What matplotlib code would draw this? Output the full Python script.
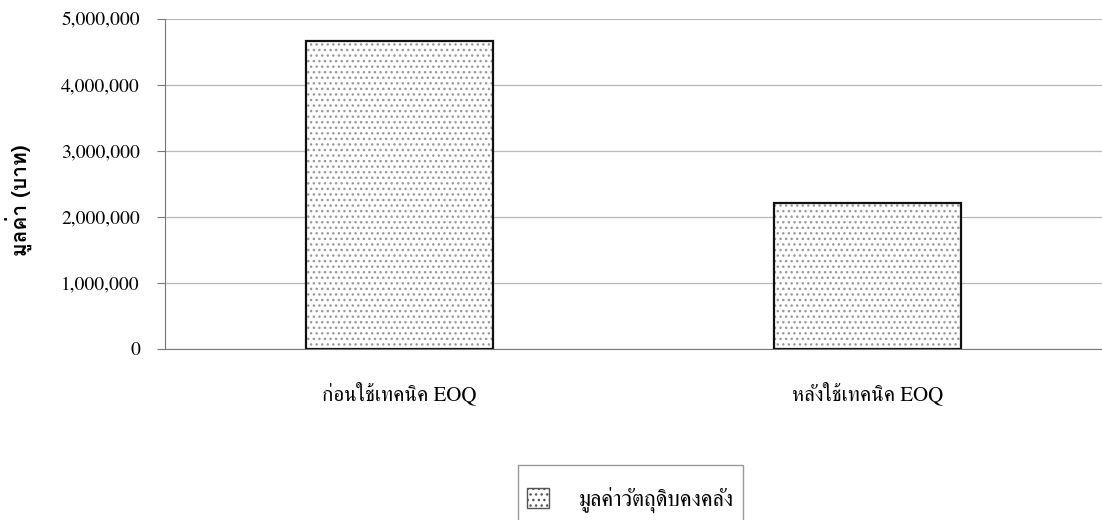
import matplotlib
matplotlib.use("Agg")
import matplotlib.pyplot as plt
from matplotlib.patches import Patch
from matplotlib.ticker import FuncFormatter

plt.rcParams['font.family'] = ['FreeSerif', 'DejaVu Serif']
plt.rcParams['hatch.linewidth'] = 1.0

# ข้อมูล
categories = ['ก่อนใช้เทคนิค EOQ', 'หลังใช้เทคนิค EOQ']
values = [4670000, 2213000]
series_name = 'มูลค่าวัตถุดิบคงคลัง'
y_label = 'มูลค่า (บาท)'
y_ticks = [0, 1000000, 2000000, 3000000, 4000000, 5000000]

fig = plt.figure(figsize=(11.02, 5.2), dpi=100)
ax = fig.add_axes([0.1497, 0.3298, 0.8503, 0.6332])

x = list(range(len(categories)))
# ลายจุด + กรอบดำ
ax.bar(x, values, width=0.40, color='white', edgecolor='#999999',
       hatch='...', linewidth=0, zorder=2)
ax.bar(x, values, width=0.40, color='none', edgecolor='#111111',
       linewidth=1.6, zorder=3)

ax.set_xlim(-0.5, 1.5)
ax.set_ylim(0, 5000000)
ax.set_yticks(y_ticks)
ax.yaxis.set_major_formatter(FuncFormatter(lambda v, p: f'{int(v):,}'))
ax.set_xticks(x)
ax.set_xticklabels(categories, fontsize=15)
ax.tick_params(axis='x', length=0, pad=24)
ax.tick_params(axis='y', labelsize=14, length=6, width=0.8, color='#777777', pad=12)

ax.grid(True, axis='y', color='#b8b8b8', linewidth=0.9, zorder=0)
ax.set_axisbelow(True)
for s in ['top', 'right']:
    ax.spines[s].set_visible(False)
ax.spines['left'].set_color('#777777')
ax.spines['bottom'].set_color('#777777')

ax.set_ylabel(y_label, fontsize=15, fontweight='bold',
              family=['Loma', 'DejaVu Sans'])
ax.yaxis.set_label_coords(-0.155, 0.45)
ax.yaxis.label.set_va('center')

handle = Patch(facecolor='white', edgecolor='#555555', hatch='...', linewidth=1)
fig.legend([handle], [series_name], loc='upper left',
           bbox_to_anchor=(518 / 1102, 1 - 465 / 520), bbox_transform=fig.transFigure,
           borderaxespad=0, fancybox=False, edgecolor='#999999', framealpha=1,
           fontsize=16, handlelength=1.0, handleheight=1.0, handletextpad=1.35,
           borderpad=0.4, title=' ', title_fontsize=1)

fig.savefig('out.png', dpi=100)
